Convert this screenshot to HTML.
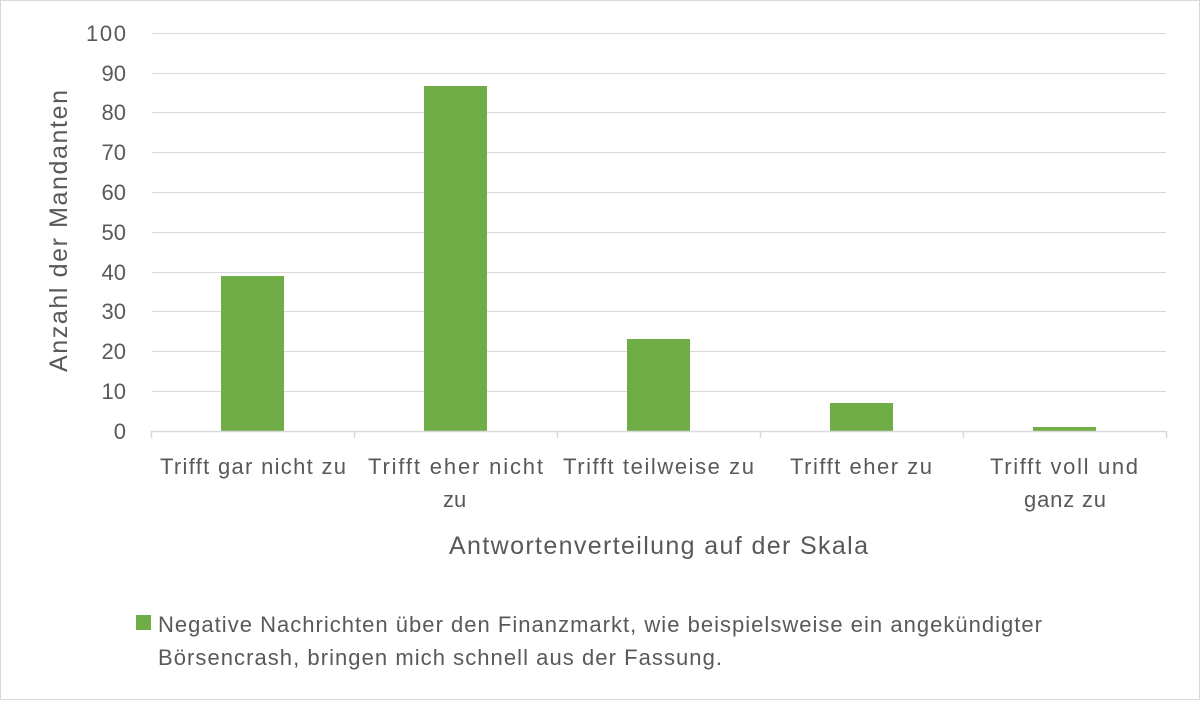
<!DOCTYPE html>
<html><head><meta charset="utf-8"><style>body{margin:0;background:#fff}svg{display:block}</style></head><body>
<svg width="1200" height="701" xmlns="http://www.w3.org/2000/svg" font-family="Liberation Sans, sans-serif" fill="#595959">
<rect x="0.5" y="0.5" width="1199" height="699" fill="#fff" stroke="#d9d9d9"/>
<g stroke="#d9d9d9" stroke-width="1">
<line x1="152" x2="1166" y1="33.5" y2="33.5"/><line x1="152" x2="1166" y1="73.5" y2="73.5"/>
<line x1="152" x2="1166" y1="112.5" y2="112.5"/><line x1="152" x2="1166" y1="152.5" y2="152.5"/>
<line x1="152" x2="1166" y1="192.5" y2="192.5"/><line x1="152" x2="1166" y1="232.5" y2="232.5"/>
<line x1="152" x2="1166" y1="272.5" y2="272.5"/><line x1="152" x2="1166" y1="311.5" y2="311.5"/>
<line x1="152" x2="1166" y1="351.5" y2="351.5"/><line x1="152" x2="1166" y1="391.5" y2="391.5"/>
</g>
<g fill="#70ad47">
<rect x="221" y="276" width="63" height="155"/>
<rect x="424" y="86" width="63" height="345"/>
<rect x="627" y="339" width="63" height="92"/>
<rect x="830" y="403" width="63" height="28"/>
<rect x="1033" y="427" width="63" height="4"/>
</g>
<g stroke="#d9d9d9" stroke-width="1.5">
<line x1="151" x2="1167" y1="431.5" y2="431.5"/>
<line x1="151.5" x2="151.5" y1="431" y2="438"/><line x1="354.5" x2="354.5" y1="431" y2="438"/>
<line x1="557.5" x2="557.5" y1="431" y2="438"/><line x1="760.5" x2="760.5" y1="431" y2="438"/>
<line x1="963.5" x2="963.5" y1="431" y2="438"/><line x1="1166.5" x2="1166.5" y1="431" y2="438"/>
</g>
<g font-size="22" text-anchor="end">
<text x="126" y="41" textLength="40">100</text><text x="126" y="81">90</text><text x="126" y="120">80</text>
<text x="126" y="160">70</text><text x="126" y="200">60</text><text x="126" y="240">50</text>
<text x="126" y="280">40</text><text x="126" y="319">30</text><text x="126" y="359">20</text>
<text x="126" y="399">10</text><text x="126" y="439">0</text>
</g>
<g font-size="22">
<text x="160" y="474" textLength="186">Trifft gar nicht zu</text>
<text x="368" y="474" textLength="175">Trifft eher nicht</text>
<text x="443" y="507">zu</text>
<text x="563" y="474" textLength="191">Trifft teilweise zu</text>
<text x="790" y="474" textLength="142">Trifft eher zu</text>
<text x="990" y="474" textLength="148">Trifft voll und</text>
<text x="1024" y="507" textLength="82">ganz zu</text>
</g>
<text x="449" y="554" font-size="25" textLength="419">Antwortenverteilung auf der Skala</text>
<text transform="translate(67,372) rotate(-90)" font-size="25" textLength="282">Anzahl der Mandanten</text>
<rect x="136" y="615" width="15" height="15" fill="#70ad47"/>
<text x="158" y="632" font-size="22" textLength="884">Negative Nachrichten über den Finanzmarkt, wie beispielsweise ein angekündigter</text>
<text x="158" y="665" font-size="22" textLength="564">Börsencrash, bringen mich schnell aus der Fassung.</text>
</svg>
</body></html>
